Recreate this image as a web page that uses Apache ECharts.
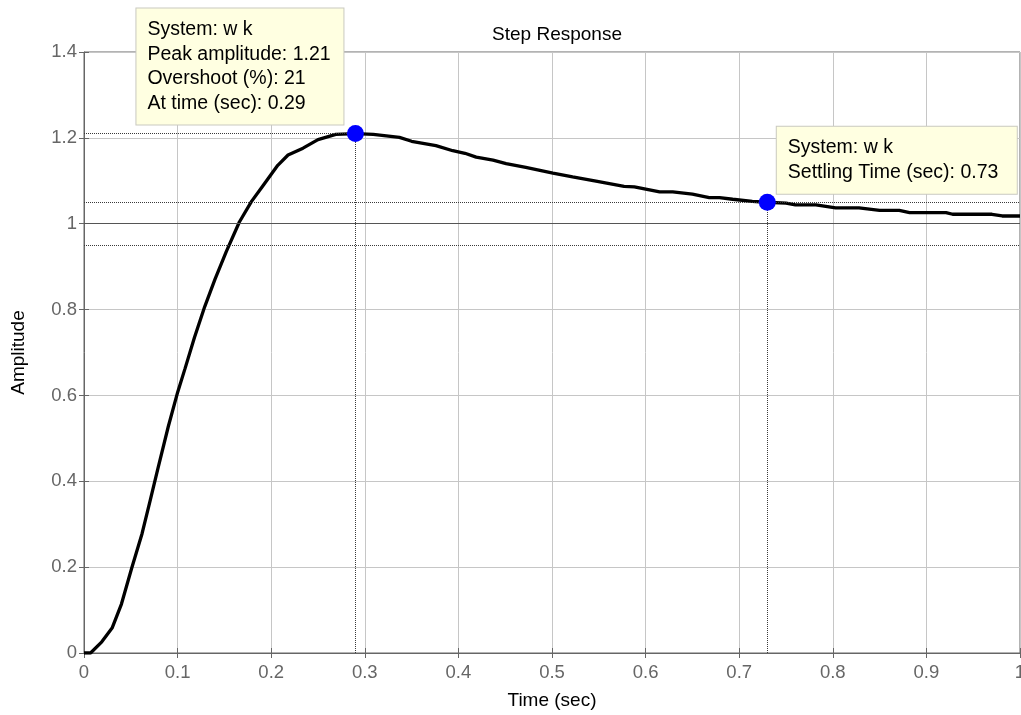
<!DOCTYPE html>
<html>
<head>
<meta charset="utf-8">
<title>Step Response</title>
<script src="https://cdn.jsdelivr.net/npm/echarts@6/dist/echarts.min.js"></script>
<style>
  html, body { margin: 0; padding: 0; background: #fff; }
  #chart { width: 1021px; height: 715px; }
</style>
</head>
<body>
<div id="chart"></div>
<script>
// Step response of system "w k"
const timeSec = [0, 0.007, 0.019, 0.030, 0.040, 0.051, 0.062, 0.071, 0.079, 0.090,
  0.100, 0.108, 0.118, 0.129, 0.140, 0.152, 0.166, 0.179, 0.191, 0.207,
  0.218, 0.234, 0.250, 0.269, 0.290, 0.309, 0.337, 0.350, 0.376, 0.394,
  0.407, 0.419, 0.437, 0.451, 0.472, 0.501, 0.522, 0.547, 0.577, 0.588,
  0.615, 0.629, 0.650, 0.668, 0.679, 0.693, 0.714, 0.729, 0.750, 0.760,
  0.782, 0.803, 0.828, 0.850, 0.871, 0.882, 0.921, 0.928, 0.970, 0.981, 1.0];
const amplitude = [0, 0.0, 0.026, 0.058, 0.114, 0.198, 0.278, 0.358, 0.430, 0.527,
  0.607, 0.663, 0.735, 0.807, 0.871, 0.935, 1.004, 1.052, 1.088, 1.136,
  1.160, 1.176, 1.196, 1.208, 1.21, 1.208, 1.201, 1.192, 1.182, 1.170,
  1.164, 1.155, 1.148, 1.140, 1.131, 1.118, 1.109, 1.099, 1.087, 1.086,
  1.074, 1.074, 1.069, 1.061, 1.061, 1.057, 1.052, 1.05, 1.048, 1.044,
  1.044, 1.037, 1.037, 1.031, 1.031, 1.026, 1.026, 1.022, 1.022, 1.018, 1.018];

// Characteristics
const systemName = 'w k';
const peakTime = 0.29;
const peakAmplitude = 1.21;
const overshootPct = 21;
const settlingTime = 0.73;
const settlingAmplitude = 1.05;
const finalValue = 1;
const settlingBand = [0.95, 1.05];

// Axis ticks
const xTicks = { min: 0, max: 1, interval: 0.1 };
const yTicks = { min: 0, max: 1.4, interval: 0.2 };

const FONT = "'Liberation Sans', Arial, Helvetica, sans-serif";
const AXIS_COLOR = '#666666';
const GRID_COLOR = '#c6c6c6';
const REF_COLOR = '#3a3a3a';

const curve = timeSec.map((t, i) => [t, amplitude[i]]);

// data tip boxes
const TIP_PAD = [9, 11];
const MARKER = 17;
const tipStyle = {
  show: true,
  fontFamily: FONT,
  fontSize: 19.5,
  lineHeight: 24.5,
  color: '#000',
  backgroundColor: '#ffffe1',
  borderColor: '#c9c9c0',
  borderWidth: 1,
  padding: TIP_PAD,
  align: 'left',
  verticalAlign: 'bottom'
};
const peakTipWidth = 185;
const settleTipWidth = 218;

const chart = echarts.init(document.getElementById('chart'), null, { renderer: 'canvas' });

const plainAxis = (pos, ticks) => ({
  type: 'value',
  position: pos,
  min: ticks.min,
  max: ticks.max,
  interval: ticks.interval,
  axisLine: { show: false },
  axisTick: { show: true, inside: true, length: 5, lineStyle: { color: AXIS_COLOR } },
  axisLabel: { show: false },
  splitLine: { show: false }
});

chart.setOption({
  animation: false,
  backgroundColor: '#fff',
  textStyle: { fontFamily: FONT },
  title: {
    text: 'Step Response',
    left: 552,
    top: 20,
    textAlign: 'center',
    textStyle: { fontFamily: FONT, fontSize: 19, fontWeight: 'normal', color: '#000' }
  },
  grid: {
    left: 84, top: 52, right: 1, bottom: 62,
    containLabel: false,
    outerBoundsMode: 'none',
    show: true,
    borderColor: AXIS_COLOR,
    borderWidth: 1,
    backgroundColor: 'transparent'
  },
  xAxis: [{
    type: 'value',
    min: xTicks.min,
    max: xTicks.max,
    interval: xTicks.interval,
    name: 'Time (sec)',
    nameLocation: 'middle',
    nameGap: 38,
    nameTextStyle: { fontFamily: FONT, fontSize: 19, color: '#000' },
    axisLine: { show: true, onZero: false, lineStyle: { color: AXIS_COLOR, width: 1 } },
    axisTick: { show: true, inside: true, length: 5, lineStyle: { color: AXIS_COLOR } },
    axisLabel: { fontFamily: FONT, fontSize: 18.5, color: '#666', margin: 10 },
    splitLine: { show: true, lineStyle: { color: GRID_COLOR, width: 1 } }
  }, plainAxis('top', xTicks)],
  yAxis: [{
    type: 'value',
    min: yTicks.min,
    max: yTicks.max,
    interval: yTicks.interval,
    name: 'Amplitude',
    nameLocation: 'middle',
    nameGap: 56,
    nameTextStyle: { fontFamily: FONT, fontSize: 19, color: '#000' },
    axisLine: { show: true, onZero: false, lineStyle: { color: AXIS_COLOR, width: 1 } },
    axisTick: { show: true, inside: true, length: 5, lineStyle: { color: AXIS_COLOR } },
    axisLabel: { fontFamily: FONT, fontSize: 18.5, color: '#666', margin: 7 },
    splitLine: { show: true, lineStyle: { color: GRID_COLOR, width: 1 } }
  }, plainAxis('right', yTicks)],
  series: [
    {
      name: systemName,
      type: 'line',
      data: curve,
      showSymbol: false,
      symbol: 'none',
      lineStyle: { color: '#000', width: 3.3 },
      z: 3,
      markLine: {
        silent: true,
        symbol: 'none',
        animation: false,
        label: { show: false },
        data: [
          { yAxis: finalValue, lineStyle: { color: '#555', type: 'solid', width: 1 } },
          { yAxis: settlingBand[0], lineStyle: { color: REF_COLOR, type: [1, 1], width: 1 } },
          { yAxis: settlingBand[1], lineStyle: { color: REF_COLOR, type: [1, 1], width: 1 } },
          [
            { coord: [xTicks.min, peakAmplitude], lineStyle: { color: REF_COLOR, type: [1, 1], width: 1 } },
            { coord: [peakTime, peakAmplitude] }
          ],
          [
            { coord: [peakTime, yTicks.min], lineStyle: { color: REF_COLOR, type: [1, 1], width: 1 } },
            { coord: [peakTime, peakAmplitude] }
          ],
          [
            { coord: [settlingTime, yTicks.min], lineStyle: { color: REF_COLOR, type: [1, 1], width: 1 } },
            { coord: [settlingTime, settlingAmplitude] }
          ]
        ]
      }
    },
    {
      name: 'characteristics',
      type: 'scatter',
      symbol: 'circle',
      symbolSize: MARKER,
      itemStyle: { color: '#0000ff', opacity: 1 },
      emphasis: { disabled: true },
      z: 5,
      data: [
        {
          value: [peakTime, peakAmplitude],
          label: Object.assign({}, tipStyle, {
            formatter: [
              'System: ' + systemName,
              'Peak amplitude: ' + peakAmplitude.toFixed(2),
              'Overshoot (%): ' + overshootPct,
              'At time (sec): ' + peakTime.toFixed(2)
            ].join('\n'),
            width: peakTipWidth,
            // box sits up and to the left of the marker
            position: [MARKER / 2 - 12 - (peakTipWidth + TIP_PAD[1] * 2), -0.5]
          })
        },
        {
          value: [settlingTime, settlingAmplitude],
          label: Object.assign({}, tipStyle, {
            formatter: [
              'System: ' + systemName,
              'Settling Time (sec): ' + settlingTime.toFixed(2)
            ].join('\n'),
            width: settleTipWidth,
            // box sits up and to the right of the marker
            position: [MARKER / 2 + 9.5, 0]
          })
        }
      ]
    }
  ]
});
</script>
</body>
</html>
